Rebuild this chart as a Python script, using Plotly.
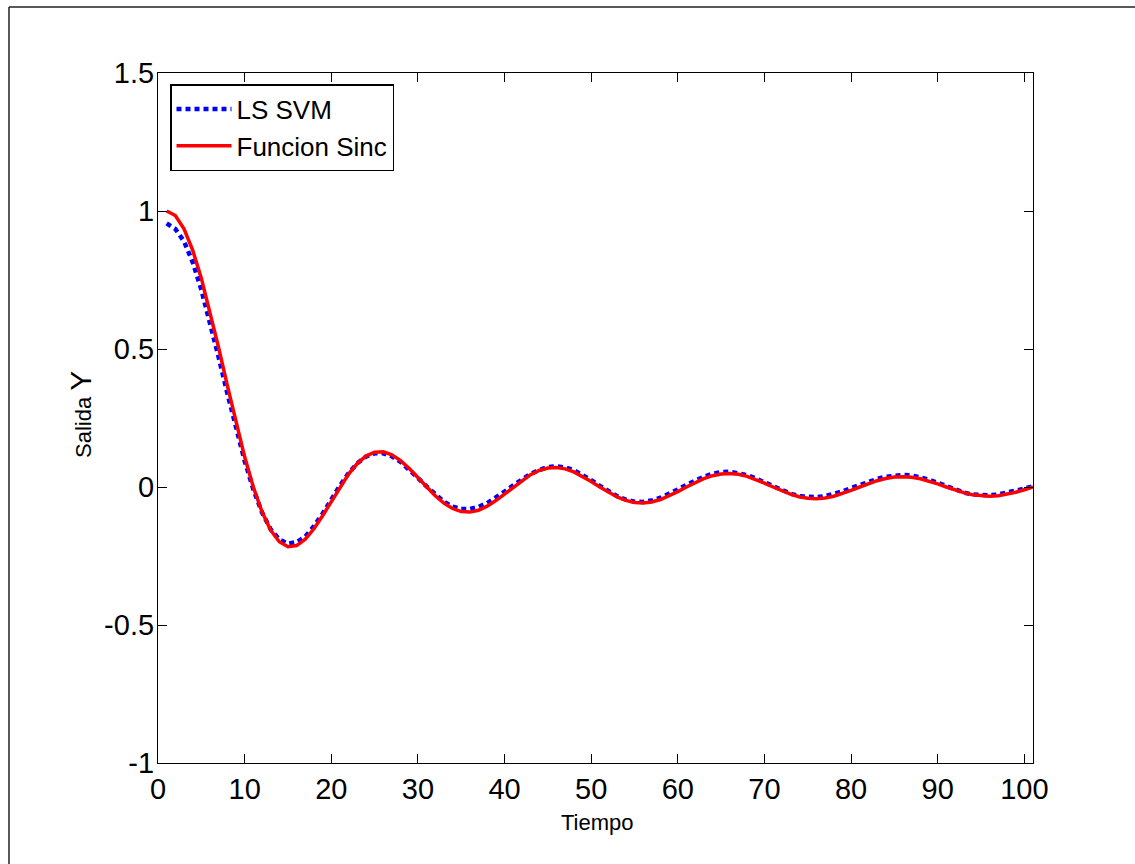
import plotly.graph_objects as go

tiempo = list(range(1, 102))

funcion_sinc = [
    1.0000, 0.9836, 0.9355, 0.8584, 0.7568, 0.6366, 0.5046, 0.3679, 0.2339, 0.1093,
    0.0000, -0.0894, -0.1559, -0.1981, -0.2162, -0.2122, -0.1892, -0.1515, -0.1039, -0.0518,
    0.0000, 0.0468, 0.0850, 0.1120, 0.1261, 0.1273, 0.1164, 0.0954, 0.0668, 0.0339,
    0.0000, -0.0317, -0.0585, -0.0780, -0.0890, -0.0909, -0.0841, -0.0696, -0.0492, -0.0252,
    0.0000, 0.0240, 0.0445, 0.0599, 0.0688, 0.0707, 0.0658, 0.0548, 0.0390, 0.0201,
    0.0000, -0.0193, -0.0360, -0.0486, -0.0561, -0.0579, -0.0541, -0.0452, -0.0323, -0.0167,
    0.0000, 0.0161, 0.0302, 0.0409, 0.0473, 0.0490, 0.0459, 0.0384, 0.0275, 0.0143,
    0.0000, -0.0139, -0.0260, -0.0353, -0.0409, -0.0424, -0.0398, -0.0334, -0.0240, -0.0125,
    0.0000, 0.0121, 0.0228, 0.0310, 0.0360, 0.0374, 0.0352, 0.0296, 0.0213, 0.0111,
    0.0000, -0.0108, -0.0203, -0.0277, -0.0322, -0.0335, -0.0315, -0.0265, -0.0191, -0.0099,
    0.0000,
]

ls_svm = [
    0.955, 0.935, 0.890, 0.815, 0.715, 0.600, 0.470, 0.340, 0.215, 0.095,
    -0.008, -0.092, -0.153, -0.190, -0.205, -0.200, -0.180, -0.142, -0.097, -0.045,
    0.005, 0.050, 0.086, 0.110, 0.122, 0.122, 0.111, 0.091, 0.064, 0.033,
    0.002, -0.028, -0.053, -0.071, -0.080, -0.080, -0.072, -0.058, -0.039, -0.017,
    0.006, 0.027, 0.047, 0.062, 0.072, 0.075, 0.071, 0.061, 0.045, 0.025,
    0.004, -0.016, -0.033, -0.046, -0.053, -0.054, -0.049, -0.039, -0.025, -0.009,
    0.008, 0.023, 0.037, 0.048, 0.054, 0.055, 0.051, 0.043, 0.031, 0.017,
    0.002, -0.012, -0.024, -0.033, -0.037, -0.037, -0.033, -0.026, -0.016, -0.004,
    0.008, 0.019, 0.029, 0.037, 0.042, 0.044, 0.042, 0.036, 0.027, 0.015,
    0.002, -0.010, -0.020, -0.027, -0.030, -0.030, -0.027, -0.021, -0.014, -0.006,
    0.003,
]

x_tickvals = [0, 10, 20, 30, 40, 50, 60, 70, 80, 90, 100]
x_ticktext = ["0", "10", "20", "30", "40", "50", "60", "70", "80", "90", "100"]
y_tickvals = [-1, -0.5, 0, 0.5, 1, 1.5]
y_ticktext = ["-1", "-0.5", "0", "0.5", "1", "1.5"]

FONT = "Liberation Sans, Arial, Helvetica, sans-serif"

fig = go.Figure()
fig.add_trace(go.Scatter(
    x=tiempo, y=ls_svm, mode="lines", name="LS SVM",
    line=dict(color="#0000ff", width=4.5, dash="5px,4px"),
))
fig.add_trace(go.Scatter(
    x=tiempo, y=funcion_sinc, mode="lines", name="Funcion Sinc",
    line=dict(color="#ff0000", width=3.5),
))

L, R, T, B = 158, 102, 73, 101
W, H = 1135, 864
pw, ph = W - L - R, H - T - B

def px2paper_x(px):
    return (px - L) / pw

def px2paper_y(py):
    return (H - B - py) / ph

axis_common = dict(
    showline=True, linecolor="black", linewidth=1.2, mirror="ticks",
    ticks="inside", ticklen=9, tickwidth=1, tickcolor="black",
    showgrid=False, zeroline=False,
    tickfont=dict(family=FONT, size=29, color="black"),
)

fig.update_layout(
    width=W, height=H,
    margin=dict(l=L, r=R, t=T, b=B),
    paper_bgcolor="white", plot_bgcolor="white",
    font=dict(family=FONT, color="black"),
    showlegend=True,
    legend=dict(
        x=px2paper_x(170), y=px2paper_y(84), xanchor="left", yanchor="top",
        bordercolor="black", borderwidth=1.5, bgcolor="white",
        font=dict(family=FONT, size=26, color="black"),
        itemwidth=55, tracegroupgap=0,
    ),
    xaxis=dict(range=[0, 101], tickvals=x_tickvals, ticktext=x_ticktext, **axis_common),
    yaxis=dict(range=[-1, 1.5], tickvals=y_tickvals, ticktext=y_ticktext,
               ticklabelstandoff=-3, **axis_common),
    annotations=[
        dict(text="Tiempo", xref="paper", yref="paper",
             x=px2paper_x(597), y=px2paper_y(822), xanchor="center", yanchor="middle",
             showarrow=False, font=dict(family=FONT, size=22, color="black")),
        dict(text="Salida <span style='font-size:30px'>Y</span>", xref="paper", yref="paper",
             x=px2paper_x(80), y=px2paper_y(415), xanchor="center", yanchor="middle",
             textangle=-90, showarrow=False, font=dict(family=FONT, size=22, color="black")),
    ],
    shapes=[
        dict(type="line", xref="paper", yref="paper",
             x0=px2paper_x(9), y0=px2paper_y(7), x1=px2paper_x(1140), y1=px2paper_y(7),
             line=dict(color="#222222", width=1.5)),
        dict(type="line", xref="paper", yref="paper",
             x0=px2paper_x(9), y0=px2paper_y(7), x1=px2paper_x(9), y1=px2paper_y(870),
             line=dict(color="#222222", width=1.5)),
    ],
)

fig.write_html("out.html")
